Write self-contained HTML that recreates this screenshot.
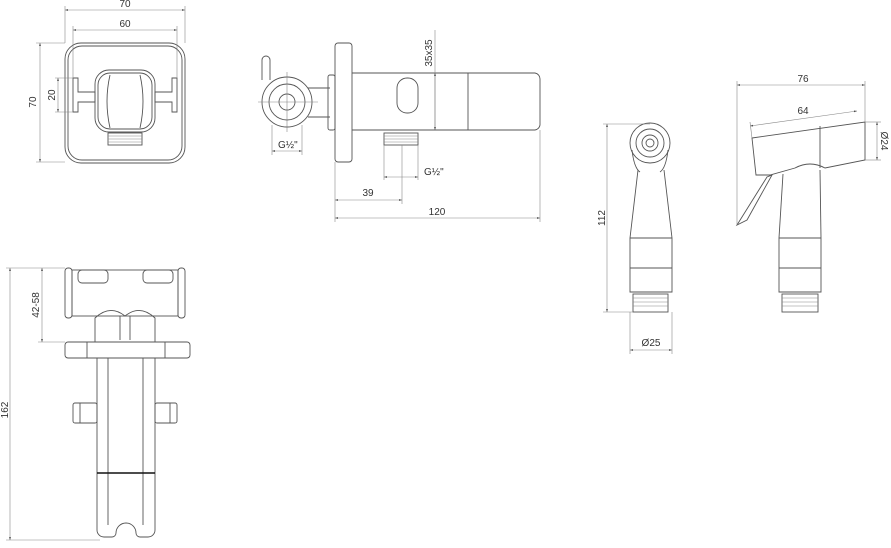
<!DOCTYPE html>
<html><head><meta charset="utf-8"><style>
html,body{margin:0;padding:0;background:#fff}
svg{display:block}
text{font-family:"Liberation Sans",sans-serif;font-size:10px;fill:#333}
.s{fill:none;stroke:#555;stroke-width:0.9}
.d{fill:none;stroke:#888;stroke-width:0.6}
</style></head><body>
<svg width="891" height="548" viewBox="0 0 891 548" xmlns="http://www.w3.org/2000/svg">
<defs><marker id="m" viewBox="0 0 10 10" refX="10" refY="5" markerWidth="7" markerHeight="5" orient="auto-start-reverse"><path d="M0,2L10,5L0,8z" fill="#444"/></marker></defs>

<!-- FRONT VIEW top-left -->
<rect class="s" x="65" y="43" width="120" height="120" rx="16"/>
<rect class="s" x="68" y="46" width="114" height="114" rx="14"/>
<rect class="s" x="95" y="70" width="60" height="62" rx="14"/>
<rect class="s" x="98" y="73" width="54" height="56" rx="12"/>
<path class="s" d="M110,75q-6,26 0,53M140,75q6,26 0,53"/>
<path class="s" d="M73,78h5v14h17v10h-17v10h-5z"/>
<path class="s" d="M177,78h-5v14h-17v10h17v10h5z"/>
<rect class="s" x="108" y="133" width="34" height="12"/>
<path class="d" d="M108,136h34M108,139h34M108,142h34"/>
<line class="d" x1="65" y1="10" x2="185" y2="10" marker-start="url(#m)" marker-end="url(#m)"/>
<line class="d" x1="65" y1="6" x2="65" y2="43"/><line class="d" x1="185" y1="6" x2="185" y2="43"/>
<text x="125" y="7" text-anchor="middle">70</text>
<line class="d" x1="73" y1="30" x2="177" y2="30" marker-start="url(#m)" marker-end="url(#m)"/>
<line class="d" x1="73" y1="26" x2="73" y2="78"/><line class="d" x1="177" y1="26" x2="177" y2="78"/>
<text x="125" y="27" text-anchor="middle">60</text>
<line class="d" x1="40" y1="43" x2="40" y2="162" marker-start="url(#m)" marker-end="url(#m)"/>
<line class="d" x1="36" y1="43" x2="65" y2="43"/><line class="d" x1="36" y1="162" x2="65" y2="162"/>
<text transform="translate(36,102) rotate(-90)" text-anchor="middle">70</text>
<line class="d" x1="58" y1="78" x2="58" y2="112" marker-start="url(#m)" marker-end="url(#m)"/>
<line class="d" x1="55" y1="78" x2="73" y2="78"/><line class="d" x1="55" y1="112" x2="73" y2="112"/>
<text transform="translate(55,95) rotate(-90)" text-anchor="middle">20</text>

<!-- SIDE VIEW top-middle -->
<circle class="s" cx="287" cy="102" r="25"/><circle class="s" cx="287" cy="102" r="18"/>
<circle class="s" cx="287" cy="102" r="8"/>
<path class="s" d="M262,80v-20a4,4 0 0 1 8,0v20"/>
<line class="d" x1="258" y1="102" x2="318" y2="102"/><line class="d" x1="287" y1="72" x2="287" y2="132"/>
<line class="s" x1="308" y1="88" x2="330" y2="88"/><line class="s" x1="308" y1="117" x2="330" y2="117"/>
<rect class="s" x="328" y="75" width="7" height="55" rx="2"/>
<rect class="s" x="335" y="43" width="17" height="119" rx="3"/>
<path class="s" d="M352,73H535a6,6 0 0 1 5,6V125a6,6 0 0 1 -5,5H352"/>
<line class="s" x1="468" y1="73" x2="468" y2="130"/>
<rect class="s" x="397" y="78" width="21" height="35" rx="10"/>
<rect class="s" x="384" y="133" width="34" height="12"/>
<path class="d" d="M384,136h34M384,139h34M384,142h34"/>
<line class="d" x1="384" y1="145" x2="384" y2="180"/><line class="d" x1="418" y1="145" x2="418" y2="180"/>
<line class="d" x1="402" y1="145" x2="402" y2="204"/>
<line class="d" x1="384" y1="177" x2="418" y2="177" marker-start="url(#m)" marker-end="url(#m)"/>
<text x="424" y="175">G½"</text>
<line class="d" x1="272" y1="151" x2="302" y2="151" marker-start="url(#m)" marker-end="url(#m)"/>
<line class="d" x1="272" y1="125" x2="272" y2="155"/><line class="d" x1="302" y1="125" x2="302" y2="155"/>
<text x="278" y="148">G½"</text>
<line class="d" x1="335" y1="162" x2="335" y2="222"/><line class="d" x1="540" y1="130" x2="540" y2="222"/>
<line class="d" x1="335" y1="200" x2="402" y2="200" marker-start="url(#m)" marker-end="url(#m)"/>
<text x="368" y="196" text-anchor="middle">39</text>
<line class="d" x1="335" y1="218" x2="540" y2="218" marker-start="url(#m)" marker-end="url(#m)"/>
<text x="437" y="215" text-anchor="middle">120</text>
<line class="d" x1="435" y1="30" x2="435" y2="130"/>
<line class="d" x1="435" y1="73" x2="435" y2="130" marker-start="url(#m)" marker-end="url(#m)"/>
<text transform="translate(432,53) rotate(-90)" text-anchor="middle">35x35</text>

<!-- TOP VIEW bottom-left -->
<rect class="s" x="72" y="270" width="106" height="46"/>
<rect class="s" x="65" y="268" width="7" height="50" rx="3"/>
<rect class="s" x="178" y="268" width="7" height="50" rx="3"/>
<rect class="s" x="78" y="270" width="30" height="13" rx="4"/><rect class="s" x="143" y="270" width="30" height="13" rx="4"/>
<path class="s" d="M95,318q15,-14 30,-2q15,-12 30,2v24h-60z"/>
<line class="s" x1="120" y1="316" x2="120" y2="340"/><line class="s" x1="130" y1="316" x2="130" y2="340"/>
<rect class="s" x="65" y="342" width="125" height="16" rx="3"/>
<line class="s" x1="87" y1="342" x2="87" y2="358"/><line class="s" x1="165" y1="342" x2="165" y2="358"/>
<path class="s" d="M97,358V530a7,7 0 0 0 7,7h8a4,4 0 0 0 4,-4a10,10 0 0 1 20,0a4,4 0 0 0 4,4h8a7,7 0 0 0 7,-7V358"/>
<line class="s" x1="108" y1="358" x2="108" y2="525"/><line class="s" x1="143" y1="358" x2="143" y2="525"/>
<line x1="97" y1="473" x2="155" y2="473" stroke="#111" stroke-width="1.5"/>
<rect class="s" x="73" y="403" width="24" height="20" rx="2"/><rect class="s" x="155" y="403" width="22" height="20" rx="2"/>
<line class="s" x1="80" y1="403" x2="80" y2="423"/><line class="s" x1="170" y1="403" x2="170" y2="423"/>
<line class="d" x1="10" y1="268" x2="10" y2="540" marker-start="url(#m)" marker-end="url(#m)"/>
<line class="d" x1="6" y1="268" x2="65" y2="268"/><line class="d" x1="6" y1="540" x2="100" y2="540"/>
<text transform="translate(8,410) rotate(-90)" text-anchor="middle">162</text>
<line class="d" x1="42" y1="268" x2="42" y2="342" marker-start="url(#m)" marker-end="url(#m)"/>
<line class="d" x1="38" y1="342" x2="65" y2="342"/>
<text transform="translate(39,305) rotate(-90)" text-anchor="middle">42-58</text>

<!-- SPRAY FRONT -->
<circle class="s" cx="650" cy="143" r="20"/><circle class="s" cx="650" cy="143" r="14"/>
<circle class="s" cx="650" cy="143" r="8"/><circle class="s" cx="650" cy="143" r="4"/>
<path class="s" d="M632,150q2,18 8,22M668,150q-2,18 -8,22"/>
<path class="s" d="M638,170L630,238V292h42V238L664,170"/>
<line class="s" x1="630" y1="238" x2="672" y2="238"/><line class="s" x1="630" y1="268" x2="672" y2="268"/>
<rect class="s" x="633" y="294" width="35" height="18"/>
<path class="d" d="M633,298h35M633,302h35M633,306h35"/>
<line class="d" x1="607" y1="124" x2="607" y2="312" marker-start="url(#m)" marker-end="url(#m)"/>
<line class="d" x1="603" y1="124" x2="650" y2="124"/><line class="d" x1="603" y1="312" x2="633" y2="312"/>
<text transform="translate(605,218) rotate(-90)" text-anchor="middle">112</text>
<line class="d" x1="630" y1="350" x2="672" y2="350" marker-start="url(#m)" marker-end="url(#m)"/>
<line class="d" x1="630" y1="312" x2="630" y2="354"/><line class="d" x1="672" y1="312" x2="672" y2="354"/>
<text x="651" y="346" text-anchor="middle">Ø25</text>

<!-- SPRAY SIDE -->
<path class="s" d="M752,138L865,122V160L825,168q-15,-8 -30,0l-25,7h-14z"/>
<line class="s" x1="820" y1="126" x2="820" y2="168"/>
<path class="s" d="M772,175L747,220l-10,5l30,-48z"/>
<path class="s" d="M783,174L779,238V292h42V238L820,170"/>
<line class="s" x1="779" y1="238" x2="821" y2="238"/><line class="s" x1="779" y1="268" x2="821" y2="268"/>
<rect class="s" x="782" y="294" width="36" height="18"/>
<path class="d" d="M782,298h36M782,302h36M782,306h36"/>
<line class="d" x1="737" y1="85" x2="865" y2="85" marker-start="url(#m)" marker-end="url(#m)"/>
<line class="d" x1="737" y1="81" x2="737" y2="225"/><line class="d" x1="865" y1="81" x2="865" y2="122"/>
<text x="803" y="82" text-anchor="middle">76</text>
<line class="d" x1="750" y1="126" x2="857" y2="111" marker-start="url(#m)" marker-end="url(#m)"/>
<line class="d" x1="750" y1="122" x2="752" y2="138"/>
<text x="803" y="114" text-anchor="middle">64</text>
<line class="d" x1="877" y1="122" x2="877" y2="160" marker-start="url(#m)" marker-end="url(#m)"/>
<line class="d" x1="865" y1="122" x2="881" y2="122"/><line class="d" x1="865" y1="160" x2="881" y2="160"/>
<text transform="translate(881,141) rotate(90)" text-anchor="middle">Ø24</text>
</svg>
</body></html>
